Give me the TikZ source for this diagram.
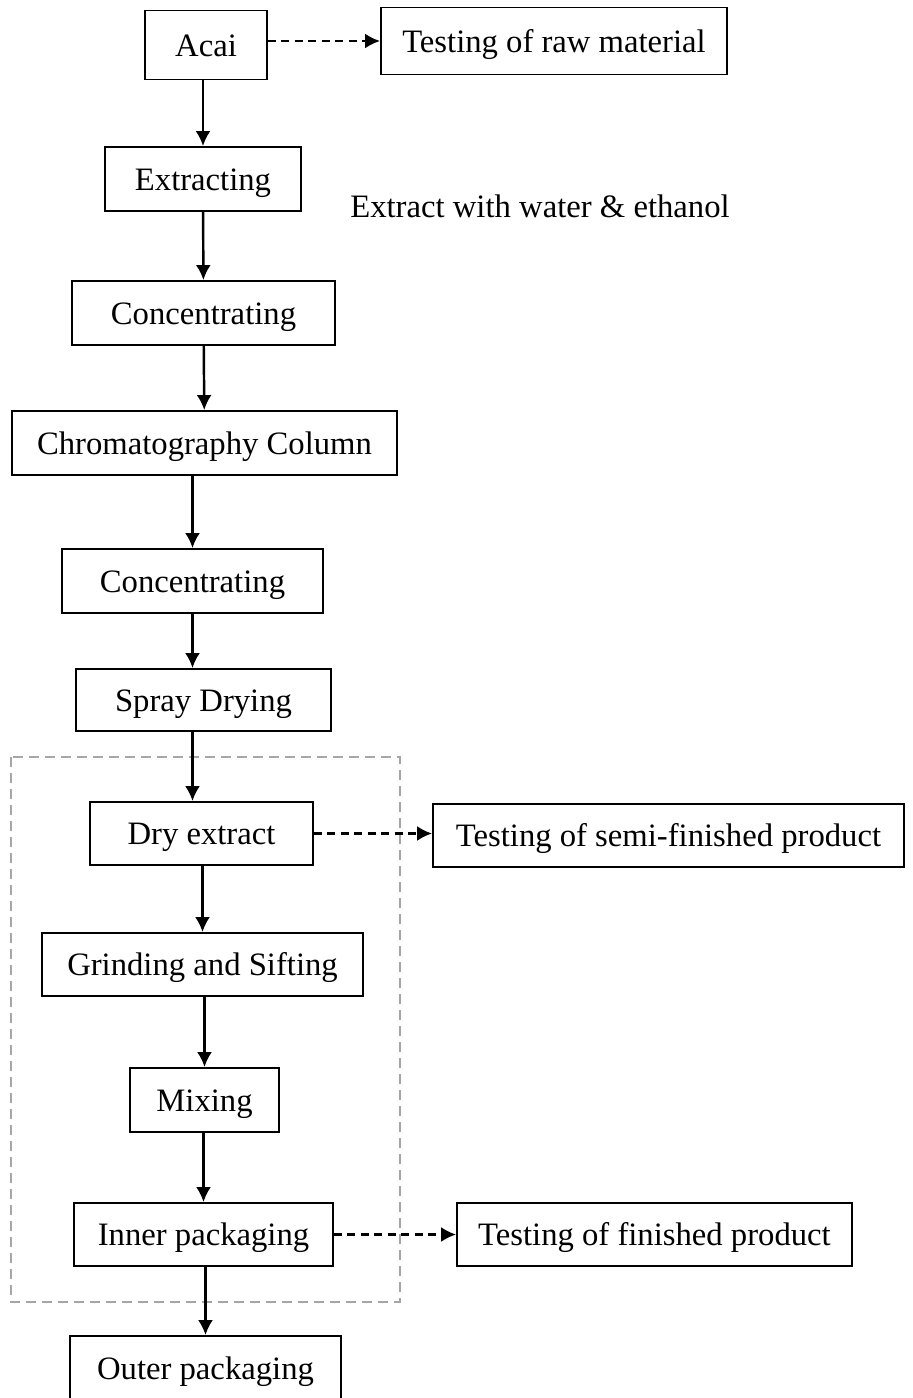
\documentclass[tikz,border=0pt]{standalone}
\usepackage{fontspec}
\setmainfont{Liberation Serif}
\usetikzlibrary{arrows.meta}

\begin{document}
\begin{tikzpicture}[x=0.02cm,y=-0.02cm,
    box/.style={draw, line width=1.1pt, inner sep=0pt, minimum height=1.28cm,
      text height=13pt, text depth=0pt, font=\fontsize{18.6}{22}\selectfont},
    flow/.style={line width=1.4pt, -{Latex[length=0.3cm,width=0.3cm]}},
    testflow/.style={line width=1.4pt, dash pattern=on 0.16cm off 0.11cm,
      -{Latex[length=0.3cm,width=0.3cm]}},
    frame/.style={gray!70, line width=1.2pt, dash pattern=on 0.2cm off 0.12cm}]
  \useasboundingbox (0,0) rectangle (912,1398);
  % grinding/packaging stage
  \draw[frame] (11,757) rectangle (400,1302);
  % main line
  \node[box, minimum width=2.44cm, minimum height=1.38cm] (acai) at (206,45) {Acai};
  \node[box, minimum width=3.92cm] (extr) at (203,179) {Extracting};
  \node[box, minimum width=5.26cm] (conc1) at (203.5,313) {Concentrating};
  \node[box, minimum width=7.7cm] (chrom) at (204.5,443) {Chromatography Column};
  \node[box, minimum width=5.22cm] (conc2) at (192.5,581) {Concentrating};
  \node[box, minimum width=5.1cm, minimum height=1.24cm] (spray) at (203.5,700) {Spray Drying};
  \node[box, minimum width=4.46cm, minimum height=1.26cm] (dry) at (201.5,833.5) {Dry extract};
  \node[box, minimum width=6.42cm, minimum height=1.26cm] (grind) at (202.5,964.5) {Grinding and Sifting};
  \node[box, minimum width=2.98cm] (mix) at (204.5,1100) {Mixing};
  \node[box, minimum width=5.18cm, minimum height=1.26cm] (inner) at (203.5,1234.5) {Inner packaging};
  \node[box, minimum width=5.42cm] (outer) at (205.5,1368) {Outer packaging};
  % tests
  \node[box, minimum width=6.92cm, minimum height=1.34cm] (raw) at (554,41) {Testing of raw material};
  \node[box, minimum width=9.42cm, minimum height=1.26cm] (semi) at (668.5,835.5) {Testing of semi-finished product};
  \node[box, minimum width=7.9cm, minimum height=1.26cm] (fin) at (654.5,1234.5) {Testing of finished product};
  \node[font=\fontsize{18.6}{22}\selectfont] (note) at (540,206) {Extract with water \& ethanol};

  \draw[flow] (acai.south -| extr.north) -- (extr.north);
  \draw[flow] (extr) -- (conc1);
  \draw[flow] (conc1) -- (chrom);
  \draw[flow] (chrom.south -| conc2.north) -- (conc2.north);
  \draw[flow] (conc2.south) -- (conc2.south |- spray.north);
  \draw[flow] (spray.south -| conc2.south) -- (conc2.south |- dry.north);
  \draw[flow] (dry.south -| grind.north) -- (grind.north);
  \draw[flow] (grind.south -| mix.north) -- (mix.north);
  \draw[flow] (mix.south -| inner.north) -- (inner.north);
  \draw[flow] (inner.south -| outer.north) -- (outer.north);

  \draw[testflow] (raw.west -| acai.east) -- (raw.west);
  \draw[testflow] (dry.east) -- (dry.east -| semi.west);
  \draw[testflow] (inner.east) -- (fin.west);
\end{tikzpicture}
\end{document}
